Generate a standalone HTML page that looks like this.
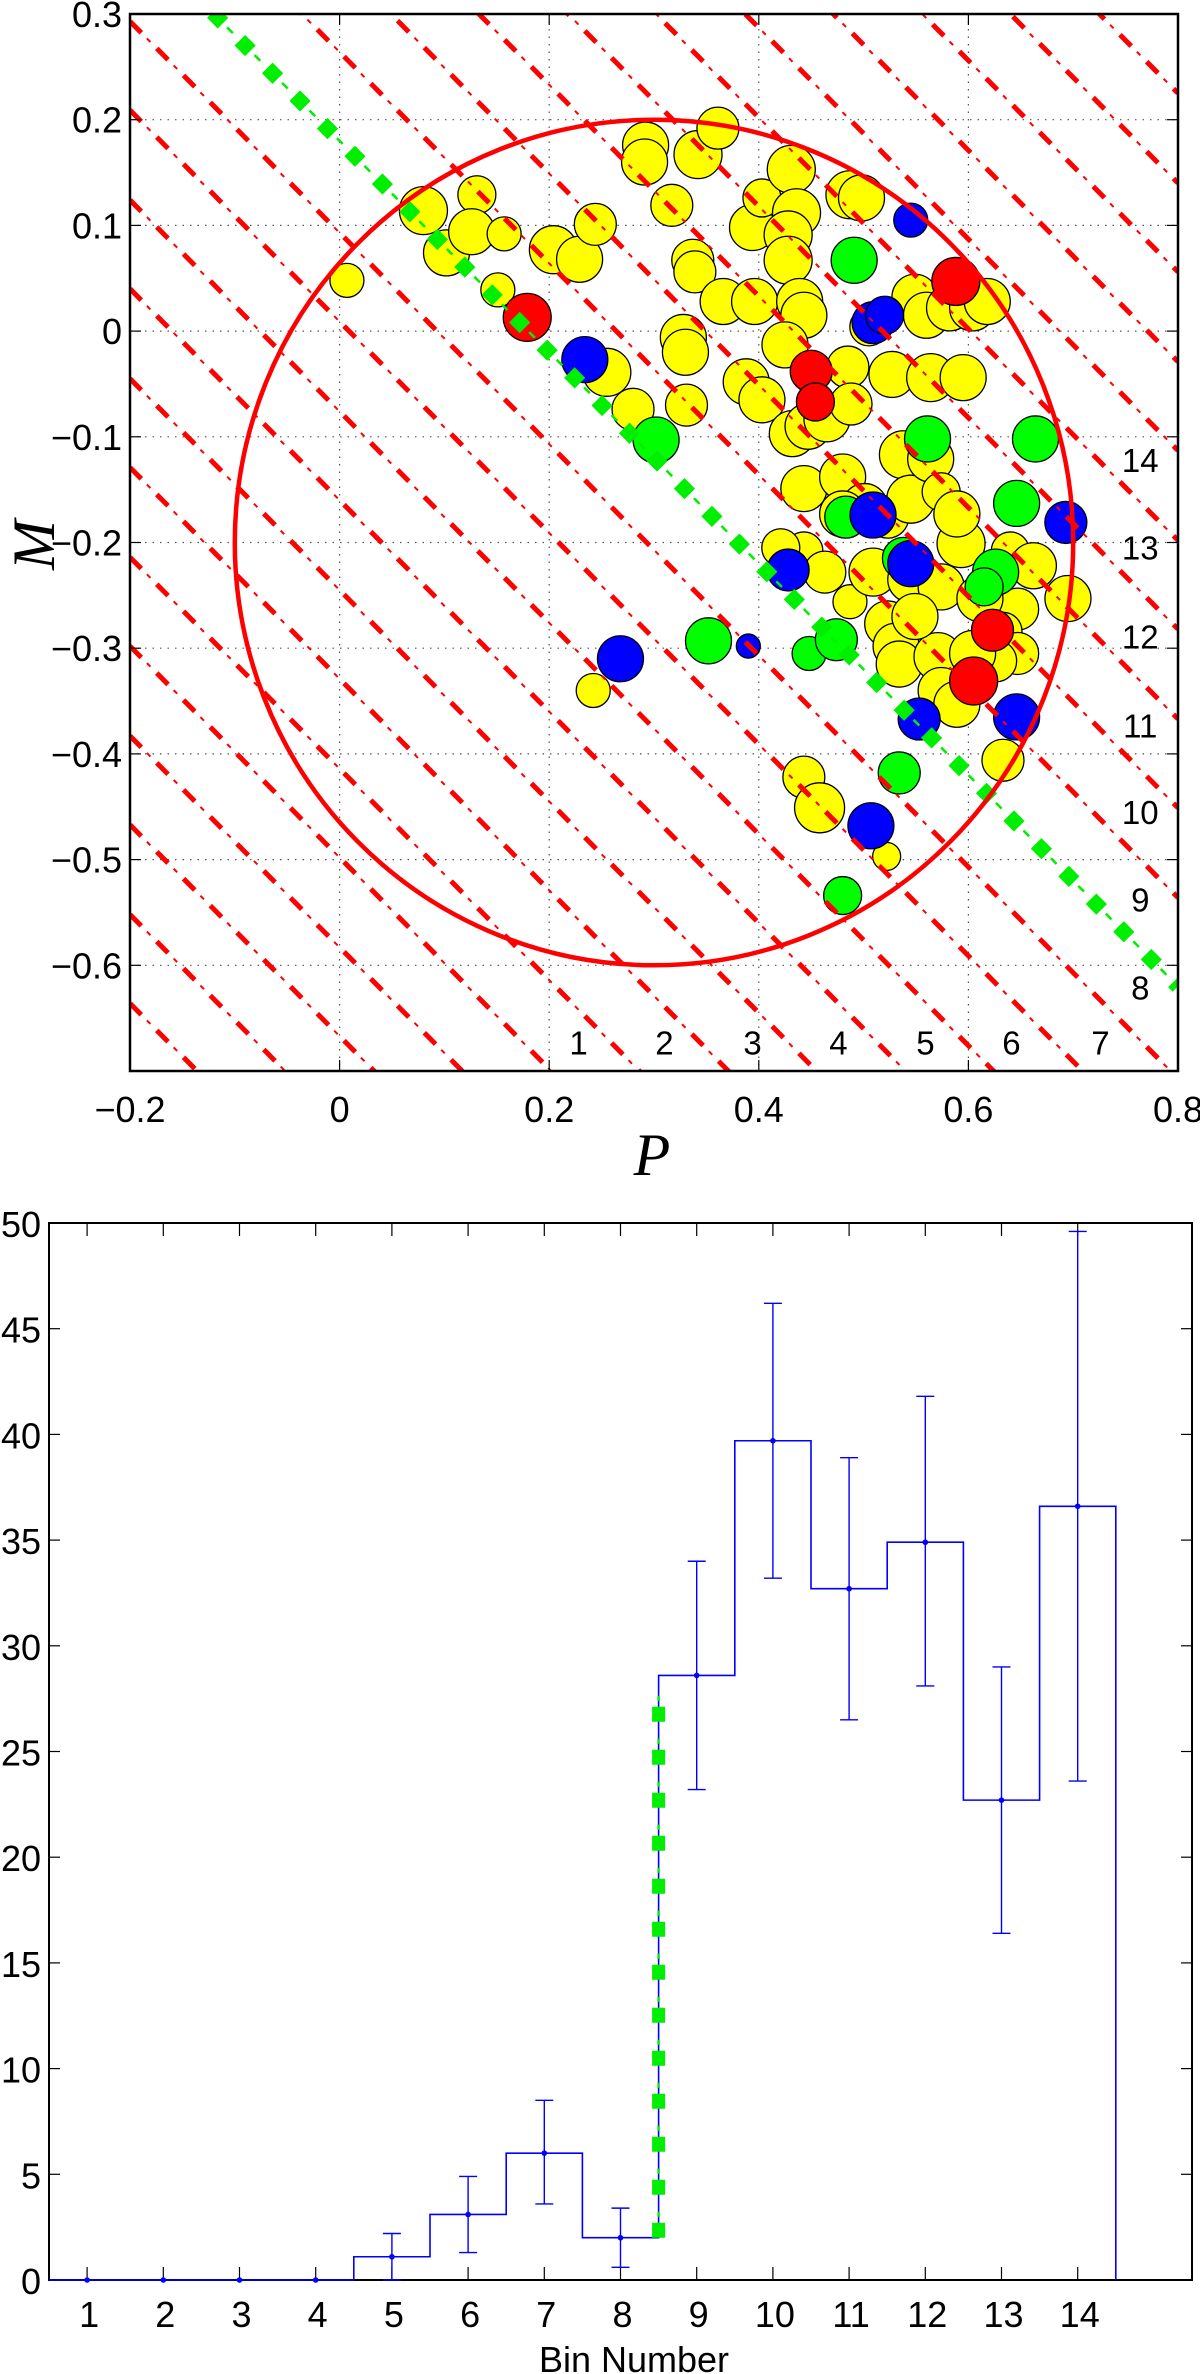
<!DOCTYPE html>
<html><head><meta charset="utf-8"><style>
html,body{margin:0;padding:0;background:#fff;}
svg{display:block;}
text{font-family:"Liberation Sans",sans-serif;fill:#000;}
</style></head><body>
<svg id="fig" width="1200" height="2374" viewBox="0 0 1200 2374" xmlns="http://www.w3.org/2000/svg">
<defs>
<clipPath id="clipTop"><rect x="130" y="14" width="1048" height="1057"/></clipPath>
</defs>
<g id="top"></g>
<g id="bottom"></g>
</svg>
<script>
// ---------- Top chart data ----------
const yellowX=[.007,.080,.102,.131,.126,.157,.151,.204,.229,.244,.255,.280,.292,.291,.317,.342,.361,.337,.339,.366,.396,.328,.330,.331,.388,.403,.394,.403,.431,.436,.428,.428,.439,.443,.425,.432,.447,.465,.485,.488,.487,.498,.505,.527,.549,.560,.564,.595,.582,.604,.618,.443,.480,.501,.523,.538,.545,.564,.574,.480,.443,.463,.487,.509,.593,.589,.545,.574,.523,.531,.534,.571,.574,.640,.662,.647,.633,.647,.626,.695,.633,.443,.458,.522,.242,.611,.604,.549,.589,.421];
const yellowY=[.048,.114,.074,.129,.094,.092,.039,.077,.068,.101,-.039,-.074,.176,.160,.119,.167,.192,.067,.056,.028,.028,-.006,-.020,-.070,-.048,-.065,.098,.126,.153,.112,.091,.067,.028,.015,-.013,-.097,-.090,-.083,-.034,-.069,.129,.126,.004,-.041,.032,.015,-.044,-.044,.022,.022,.028,-.149,-.138,-.166,-.176,-.117,-.159,-.121,-.152,-.173,-.208,-.228,-.256,-.228,-.201,-.173,-.235,-.242,-.277,-.298,-.315,-.308,-.340,-.208,-.222,-.263,-.284,-.305,-.312,-.253,-.406,-.422,-.451,-.497,-.340,-.253,-.305,-.270,-.353,-.205];
const yellowR=[17,24,23,19,23,17,17,24,23,21,24,21,23,23,21,24,21,21,21,23,23,23,23,21,23,23,23,19,24,24,24,24,23,23,23,23,23,23,21,21,24,23,19,23,23,23,24,23,23,23,23,23,23,23,21,24,24,23,19,23,19,21,17,24,24,23,23,23,23,23,23,24,23,19,23,21,19,21,21,23,21,21,25,14,17,23,23,23,23,19];
const greenX=[.302,.491,.561,.664,.646,.483,.538,.626,.615,.352,.448,.474,.534,.480];
const greenY=[-.103,.067,-.102,-.102,-.163,-.176,-.215,-.228,-.242,-.293,-.305,-.292,-.418,-.534];
const greenR=[23,23,23,23,23,21,21,23,19,23,17,21,21,19];
const blueX=[.545,.509,.520,.234,.509,.693,.428,.545,.390,.268,.553,.646,.507];
const blueY=[.105,.008,.015,-.027,-.174,-.181,-.226,-.220,-.298,-.310,-.367,-.365,-.468];
const blueR=[17,21,19,23,23,21,21,23,12,23,21,23,23];
const redX=[.179,.450,.454,.588,.623,.605];
const redY=[.013,-.038,-.067,.047,-.283,-.331];
const redR=[24,21,19,24,21,24];
const boundaryC=[1.025,.940,.856,.771,.687,.602,.518,.433,.349,.264,.093,.009,-.076,-.160,-.245,-.329,-.414,-.498,-.583,-.667,-.752,-.836];
const thresholdC=[.18];
const binLabelNums=[1,2,3,4,5,6,7,8,9,10,11,12,13,14];
const binLabelX=[.228,.310,.394,.476,.559,.641,.726,.764,.764,.764,.764,.764,.764,.764];
const binLabelY=[-.672,-.672,-.672,-.672,-.672,-.672,-.672,-.62,-.537,-.454,-.372,-.288,-.204,-.121];
const topXTicks=[-0.2,0,0.2,0.4,0.6,0.8];
const topYTicks=[0.3,0.2,0.1,0,-0.1,-0.2,-0.3,-0.4,-0.5,-0.6];
const circleCenter=[0.3,-0.2];
const circleRadius=[0.4];

// ---------- Bottom chart data ----------
const bins=[1,2,3,4,5,6,7,8,9,10,11,12,13,14];
const counts=[0,0,0,0,1.1,3.1,6.0,2.0,28.6,39.7,32.7,34.9,22.7,36.6];
const errLow=[null,null,null,null,0,1.3,3.6,0.6,23.2,33.2,26.5,28.1,16.4,23.6];
const errHigh=[null,null,null,null,2.2,4.9,8.5,3.4,34.0,46.2,38.9,41.8,29.0,49.6];
const thresholdBin=[8.5];
const thresholdRange=[2.0,28.0];
const bottomYTicks=[0,5,10,15,20,25,30,35,40,45,50];

const NS="http://www.w3.org/2000/svg";
function mk(tag,attrs,parent){const e=document.createElementNS(NS,tag);for(const k in attrs)e.setAttribute(k,attrs[k]);parent.appendChild(e);return e;}

// ===== TOP =====
const T=document.getElementById('top');
const px=x=>130+(x+0.2)*1048;
const py=y=>14+(0.3-y)*1057;
topXTicks.slice(1,-1).forEach(t=>{const g=mk('line',{x1:px(t),y1:14,x2:px(t),y2:1071,stroke:'#555','stroke-width':1.2,'stroke-dasharray':'1.5 6'},T);

});
topYTicks.slice(1).forEach(t=>{const g=mk('line',{x1:130,y1:py(t),x2:1178,y2:py(t),stroke:'#555','stroke-width':1.2,'stroke-dasharray':'1.5 6'},T);

});
const pts=mk('g',{'clip-path':'url(#clipTop)'},T);


function drawPts(X,Y,R,col,name){for(let i=0;i<X.length;i++){const c=mk('circle',{cx:px(X[i]),cy:py(Y[i]),r:R[i],fill:col,stroke:'#000','stroke-width':1.3},pts);

}}
drawPts(yellowX,yellowY,yellowR,'#ffff00','yellow-point');
drawPts(greenX,greenY,greenR,'#00ff00','green-point');
drawPts(blueX,blueY,blueR,'#0000ff','blue-point');
drawPts(redX,redY,redR,'#ff0000','red-point');
const lines=mk('g',{'clip-path':'url(#clipTop)'},T);


function diag(c,col,w1,da1,w2,da2,name){
 const x1=-0.2,y1=c+0.2,x2=0.8,y2=c-0.8;
 const a=mk('line',{x1:px(x1),y1:py(y1),x2:px(x2),y2:py(y2),stroke:col,'stroke-width':w1,'stroke-dasharray':da1},lines);
 
 
 const b=mk('line',{x1:px(x1),y1:py(y1),x2:px(x2),y2:py(y2),stroke:col,'stroke-width':w2,'stroke-dasharray':da2},lines);
 
 
}
boundaryC.forEach(c=>diag(c,'#ff0000',5,'16 22',2,'0 24 5 9','boundary-line'));
thresholdC.forEach(c=>diag(c,'#00ee00',15,'15 24',2.5,'0 21 8 10','threshold-line'));
const circ=mk('ellipse',{cx:px(circleCenter[0]),cy:py(circleCenter[1]),rx:circleRadius[0]*1048,ry:circleRadius[0]*1057,fill:'none',stroke:'#ff0000','stroke-width':4.5},T);


binLabelNums.forEach((n,i)=>{const t=mk('text',{x:px(binLabelX[i]),y:py(binLabelY[i])+13,'font-size':33,'text-anchor':'middle'},T);t.textContent=n;

});
const box=mk('rect',{x:130,y:14,width:1048,height:1057,fill:'none',stroke:'#000','stroke-width':2.5},T);


topXTicks.forEach(t=>{
 mk('line',{x1:px(t),y1:1071,x2:px(t),y2:1060,stroke:'#000','stroke-width':1.2},T);
 mk('line',{x1:px(t),y1:14,x2:px(t),y2:25,stroke:'#000','stroke-width':1.2},T);
 const l=mk('text',{x:px(t),y:1122,'font-size':36,'text-anchor':'middle'},T);l.textContent=t===0?'0':(t<0?'\u2212'+Math.abs(t):String(t));
 
 });
topYTicks.forEach(t=>{
 mk('line',{x1:130,y1:py(t),x2:141,y2:py(t),stroke:'#000','stroke-width':1.2},T);
 mk('line',{x1:1178,y1:py(t),x2:1167,y2:py(t),stroke:'#000','stroke-width':1.2},T);
 const l=mk('text',{x:122,y:py(t)+13,'font-size':36,'text-anchor':'end'},T);l.textContent=t===0?'0':(t<0?'\u2212'+Math.abs(t):String(t));
 
 });
const xl=mk('text',{x:652,y:1175,'font-size':60,'font-style':'italic','text-anchor':'middle',style:'font-family:"Liberation Serif",serif'},T);xl.textContent='P';


const yl=mk('text',{x:0,y:0,'font-size':60,'font-style':'italic','text-anchor':'middle',transform:'translate(54,545) rotate(-90)',style:'font-family:"Liberation Serif",serif'},T);yl.textContent='M';



// ===== BOTTOM =====
const B=document.getElementById('bottom');
const bx=v=>49+(v-0.5)*76.2;
const by=v=>2280-v*21.14;
const bb=mk('rect',{x:49,y:1223,width:1143,height:1057,fill:'none',stroke:'#000','stroke-width':2},B);


bottomYTicks.forEach(t=>{
 mk('line',{x1:49,y1:by(t),x2:60,y2:by(t),stroke:'#000','stroke-width':1.2},B);
 mk('line',{x1:1192,y1:by(t),x2:1181,y2:by(t),stroke:'#000','stroke-width':1.2},B);
 const l=mk('text',{x:41,y:by(t)+14,'font-size':36,'text-anchor':'end'},B);l.textContent=t;
 
 });
bins.forEach(b=>{
 mk('line',{x1:bx(b),y1:2280,x2:bx(b),y2:2267,stroke:'#000','stroke-width':1.2},B);
 mk('line',{x1:bx(b),y1:1223,x2:bx(b),y2:1236,stroke:'#000','stroke-width':1.2},B);
 const l=mk('text',{x:bx(b)+2,y:2327,'font-size':36,'text-anchor':'middle'},B);l.textContent=b;
 
 });
const bt=mk('text',{x:634,y:2372,'font-size':36,'text-anchor':'middle'},B);bt.textContent='Bin Number';


let d='M'+bx(0.5)+' '+by(0);
bins.forEach((b,i)=>{d+=' L'+bx(b-0.5)+' '+by(counts[i])+' L'+bx(b+0.5)+' '+by(counts[i]);});
d+=' L'+bx(bins[bins.length-1]+0.5)+' '+by(0);
const st=mk('path',{d:d,fill:'none',stroke:'#0000ff','stroke-width':1.6},B);


const th1=mk('line',{x1:bx(thresholdBin[0]),y1:by(thresholdRange[0]),x2:bx(thresholdBin[0]),y2:by(thresholdRange[1]),stroke:'#00ee00','stroke-width':13,'stroke-dasharray':'15 28'},B);


const th2=mk('line',{x1:bx(thresholdBin[0]),y1:by(thresholdRange[0]),x2:bx(thresholdBin[0]),y2:by(thresholdRange[1]),stroke:'#00ee00','stroke-width':2.5,'stroke-dasharray':'0 21 5 17'},B);


bins.forEach((b,i)=>{
 if(errLow[i]!==null){
  const g=mk('g',{stroke:'#0000ff','stroke-width':1.4},B);
  
  
  mk('line',{x1:bx(b),y1:by(errLow[i]),x2:bx(b),y2:by(errHigh[i])},g);
  mk('line',{x1:bx(b)-9,y1:by(errLow[i]),x2:bx(b)+9,y2:by(errLow[i])},g);
  mk('line',{x1:bx(b)-9,y1:by(errHigh[i]),x2:bx(b)+9,y2:by(errHigh[i])},g);
 }
 const m=mk('circle',{cx:bx(b),cy:by(counts[i]),r:2.8,fill:'#0000ff'},B);
 
 
});
</script>
</body></html>
